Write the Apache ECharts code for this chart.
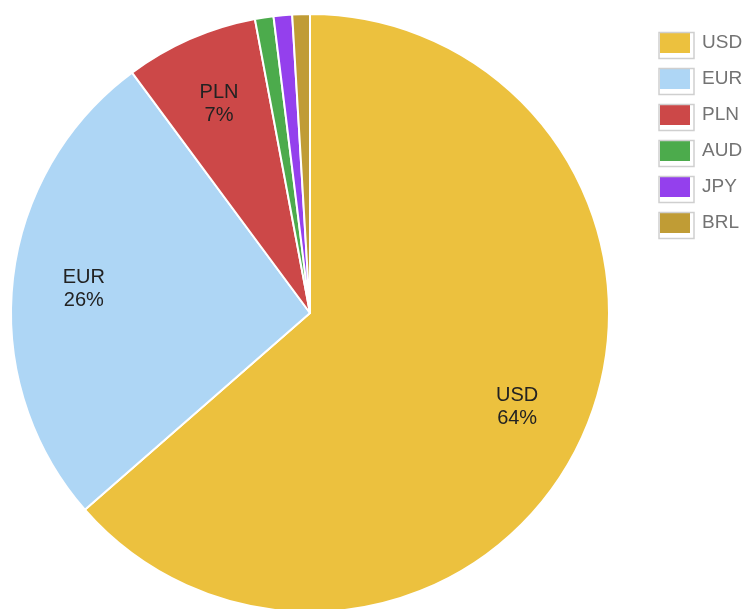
<!DOCTYPE html>
<html>
<head>
<meta charset="utf-8">
<script src="https://cdn.jsdelivr.net/npm/echarts@6/dist/echarts.min.js"></script>
<style>
html,body{margin:0;padding:0;background:#fff;}
#chart{width:745px;height:609px;}
</style>
</head>
<body>
<div id="chart"></div>
<script>
var categories = ['USD', 'EUR', 'PLN', 'AUD', 'JPY', 'BRL'];
var shares = [63.6, 26.3, 7.2, 1.0, 1.0, 0.95];
var colors = ['#ECC13E', '#AED6F5', '#CC4848', '#4CAB4C', '#9440ED', '#C09C35'];

var chart = echarts.init(document.getElementById('chart'), null, {renderer: 'canvas'});
var font = '"Liberation Sans", Arial, sans-serif';

var pieData = categories.map(function (c, i) {
  return {name: c, value: shares[i], itemStyle: {color: colors[i]}};
});
var labelData = categories.map(function (c, i) {
  return {name: c, value: shares[i]};
});

var legendTop = 31, legendStep = 36;
var frames = categories.map(function (c, i) {
  return {
    type: 'rect',
    left: 656.5, top: legendTop - 1 + i * legendStep,
    shape: {width: 35, height: 26},
    style: {fill: null, stroke: '#cfcfcf', lineWidth: 1.5},
    silent: true, z: 100
  };
});

chart.setOption({
  backgroundColor: '#fff',
  animation: false,
  color: colors,
  legend: {
    data: categories,
    orient: 'vertical',
    left: 658,
    top: legendTop,
    padding: 0,
    itemWidth: 32,
    itemHeight: 22,
    itemGap: 12,
    icon: 'rect',
    itemStyle: {borderColor: '#fff', borderWidth: 2},
    textStyle: {fontFamily: font, fontSize: 19, color: '#737373', lineHeight: 22, padding: [0, 0, 0, 6]}
  },
  graphic: frames,
  series: [
    {
      type: 'pie',
      center: [310, 313],
      radius: [0, 299],
      startAngle: 90,
      clockwise: true,
      data: pieData,
      label: {show: false},
      labelLine: {show: false},
      itemStyle: {borderColor: '#fff', borderWidth: 2},
      emphasis: {disabled: true}
    },
    {
      type: 'pie',
      center: [310, 313],
      radius: [150, 299],
      startAngle: 90,
      clockwise: true,
      silent: true,
      data: labelData,
      itemStyle: {color: 'rgba(0,0,0,0)'},
      avoidLabelOverlap: false,
      labelLine: {show: false},
      label: {
        show: true,
        position: 'inside',
        fontFamily: font,
        fontSize: 20,
        lineHeight: 23,
        color: '#222',
        formatter: function (p) {
          if (p.percent < 5) return '';
          return p.name + '\n' + Math.round(p.percent) + '%';
        }
      },
      emphasis: {disabled: true}
    }
  ]
});
</script>
</body>
</html>
